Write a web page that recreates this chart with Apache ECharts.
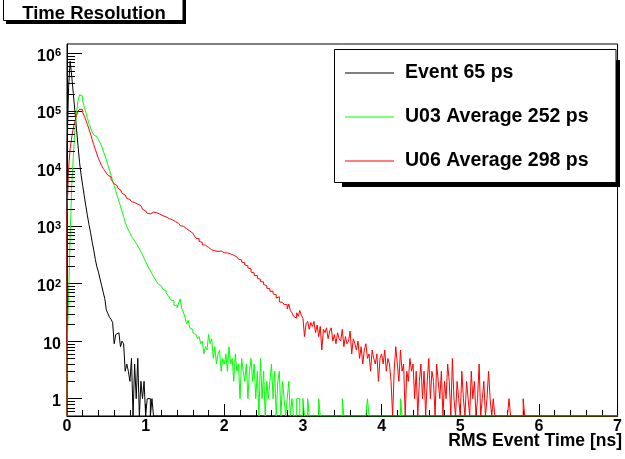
<!DOCTYPE html>
<html><head><meta charset="utf-8">
<script src="https://cdn.jsdelivr.net/npm/echarts@6/dist/echarts.min.js"></script>
<style>html,body{margin:0;padding:0;background:#fff}#c{width:625px;height:459px}</style>
</head><body><div id="c"></div>
<script>
// ---- data ----
const binWidth = 0.02;          // ns per histogram bin
const xMin = 0, xMax = 7;
const yMin = 0.5, yMax = 1.45e6;
const seriesNames = ['Event 65 ps', 'U03 Average 252 ps', 'U06 Average 298 ps'];
const seriesColors = ['#000000', '#00ff00', '#ff0000'];

const eventCounts = [20000,250000,730000,400000,200000,100000,50000,25000,12600,7600,
  5000,3300,2200,1500,1050,760,525,380,263,195,
  158,120,93,71,55,35,30,26,24,21,
  9,13,14,13,8,10,9,3,4,3,
  2,5,0,4,1,5,0,2,1,2,
  0,1,1,0,1];

const u03Counts = [6,60,600,5000,16000,45000,90000,150000,190000,180000,
  148000,117000,93000,74000,60000,50000,43000,38000,35500,34000,
  31500,28000,24500,20500,17000,14000,11500,9300,7600,6200,
  5000,4100,3300,2700,2200,1780,1450,1170,980,850,
  760,660,600,550,500,450,400,355,316,275,
  240,210,186,166,148,132,120,107,98,91,
  85,79,76,69,63,58,52,50,42,42,
  38,46,54,36,32,26,20,23,17,16,
  14,13,14,11,12,9,10,6,8,7,
  13,9,11,5,8,4,6,7,3,5,
  4,6,3,8,4,5,2,6,3,4,
  1,5,3,2,4,1,3,5,2,4,
  1,3,0,5,1,3,0,2,1,2,
  4,1,3,0,2,3,0,2,1,0,
  1,2,0,1,0,0,1,1,0,0,
  1,0,0,1,0,0,0,0,0,0,
  1,0,0,0,0,0,0,0,0,0,
  0,0,0,0,0,1,0,0,0,0,
  0,0,0,0,0,0,0,0,0,0,
  0,1,0,0,0,0,0,0,0,0,
  0,0,0,0,0,0,0,0,0,0,
  0,0,1];

const u06Counts = [1500,10000,22000,35000,50000,66000,83000,98000,107000,105000,
  93000,81000,69000,57500,48000,39000,31600,25700,21400,17800,
  14800,12900,11200,10000,9100,8300,7600,7100,6500,5900,
  5400,5000,4600,4250,4000,3700,3450,3250,3000,2900,
  2750,2650,2550,2500,2400,2350,2250,2100,1950,1820,
  1740,1660,1620,1580,1740,1760,1700,1680,1610,1590,
  1510,1490,1440,1420,1340,1330,1280,1270,1190,1160,
  1110,1080,1010,990,920,900,840,820,770,750,
  700,670,610,600,540,520,470,465,435,425,
  395,385,365,372,355,360,345,368,350,342,
  358,340,352,328,330,310,305,290,285,265,
  258,236,230,210,204,186,180,158,153,137,
  138,123,119,108,107,96,92,83,81,73,
  74,66,64,56,59,48,47,49,43,43,
  36,44,34,31,27,25,31,27,34,28,
  25,12,20,22,16,21,18,22,14,19,
  12,18,7,16,14,17,11,15,17,10,
  13,9,14,11,10,16,8,12,9,10,
  15,6,11,9,7,10,5,8,4,7,
  9,5,6,3,7,5,4,6,2,5,
  6,4,7,3,5,4,2,0,3,8,
  4,2,7,3,4,0,3,2,5,3,
  4,1,3,0,2,4,1,3,0,2,
  5,1,3,2,0,4,2,1,3,0,
  2,1,4,2,0,5,1,0,2,1,
  0,3,1,0,2,1,0,3,1,2,
  0,1,4,0,1,2,0,1,3,1,
  0,1,0,0,0,0,0,0,0,0,
  0,1,0,0,0,0,0,0,0,0,
  1];

const xTickLabels = ['0','1','2','3','4','5','6','7'];
const yMinorTicks = [0.6,0.7,0.8,0.9,
  2,3,4,5,6,7,8,9,
  20,30,40,50,60,70,80,90,
  200,300,400,500,600,700,800,900,
  2000,3000,4000,5000,6000,7000,8000,9000,
  20000,30000,40000,50000,60000,70000,80000,90000,
  200000,300000,400000,500000,600000,700000,800000,900000];

// ---- build ----
const FONT = 'Liberation Sans';
function histPoints(counts) {
  const pts = [[xMin, yMin]];
  counts.forEach((c, i) => pts.push([+(xMin + i * binWidth).toFixed(4), Math.max(c, yMin)]));
  pts.push([+(xMin + counts.length * binWidth).toFixed(4), yMin]);
  pts.push([xMax, yMin]);
  return pts;
}
const allCounts = [eventCounts, u03Counts, u06Counts];

const chart = echarts.init(document.getElementById('c'), null, {renderer: 'canvas', width: 625, height: 459});

const series = allCounts.map((counts, k) => ({
  name: seriesNames[k],
  type: 'line',
  step: 'end',
  data: histPoints(counts),
  showSymbol: false,
  symbol: 'none',
  color: seriesColors[k],
  lineStyle: {color: seriesColors[k], width: 1},
  clip: true,
  animation: false,
  z: 3 + k
}));

series.push({
  type: 'custom',
  silent: true,
  clip: false,
  z: 10,
  data: yMinorTicks.map(v => [xMin, v]),
  renderItem: (params, api) => {
    const p = api.coord([api.value(0), api.value(1)]);
    const y = Math.round(p[1]) + 0.5;
    return {type: 'line', shape: {x1: p[0], y1: y, x2: p[0] + 8, y2: y}, style: {stroke: '#000', lineWidth: 1}};
  }
});

chart.setOption({
  backgroundColor: '#fff',
  animation: false,
  textStyle: {fontFamily: FONT},
  grid: {left: 67, top: 44, width: 553, height: 372, show: true, borderColor: '#000', borderWidth: 1, backgroundColor: 'transparent'},
  xAxis: {
    type: 'value', min: xMin, max: xMax, interval: 1,
    axisLine: {show: true, lineStyle: {color: '#000', width: 1}},
    axisTick: {show: true, inside: true, length: 12, lineStyle: {color: '#000'}},
    minorTick: {show: true, splitNumber: 5, length: 6, lineStyle: {color: '#000'}},
    splitLine: {show: false},
    axisLabel: {color: '#000', fontSize: 16, fontWeight: 'bold', fontFamily: FONT, margin: 3,
      formatter: v => xTickLabels[Math.round(v)] || ''}
  },
  yAxis: {
    type: 'log', logBase: 10, min: yMin, max: yMax,
    axisLine: {show: true, lineStyle: {color: '#000', width: 1}},
    axisTick: {show: true, inside: true, length: 15, lineStyle: {color: '#000'}},
    splitLine: {show: false},
    axisLabel: {
      color: '#000', fontSize: 16, fontWeight: 'bold', fontFamily: FONT, margin: 6,
      padding: [6, 0, 0, 0],
      showMinLabel: false, showMaxLabel: false,
      formatter: v => {
        const l = Math.log10(v), e = Math.round(l);
        if (Math.abs(l - e) > 1e-6) return '';
        if (e === 0) return '1';
        if (e === 1) return '10';
        return '{b|10}{s|' + e + '}';
      },
      rich: {
        b: {fontSize: 16, fontWeight: 'bold', fontFamily: FONT, color: '#000'},
        s: {fontSize: 11, fontWeight: 'bold', fontFamily: FONT, color: '#000', verticalAlign: 'top', padding: [0, 0, 6, 0]}
      }
    }
  },
  legend: {
    orient: 'vertical', left: 345, top: 63, padding: 0, itemWidth: 49, itemHeight: 1, itemGap: 24,
    icon: 'rect', selectedMode: false,
    textStyle: {fontFamily: FONT, fontWeight: 'bold', fontSize: 19.5, lineHeight: 20, color: '#000', padding: [0, 0, 0, 6]},
    data: seriesNames
  },
  graphic: [
    {type: 'rect', shape: {x: 6, y: -4, width: 180, height: 28}, style: {fill: '#000'}, z: 20},
    {type: 'rect', shape: {x: 3.5, y: -6.5, width: 179.5, height: 27}, style: {fill: '#fff', stroke: '#000', lineWidth: 1}, z: 21},
    {type: 'text', x: 94, y: 14, style: {text: 'Time Resolution', fontFamily: FONT, fontWeight: 'bold', fontSize: 18.5, fill: '#000', align: 'center', verticalAlign: 'middle'}, z: 22},
    {type: 'rect', shape: {x: 342, y: 60, width: 278, height: 127}, style: {fill: '#000'}, z: 0},
    {type: 'rect', shape: {x: 334.5, y: 49.5, width: 281.5, height: 133}, style: {fill: '#fff', stroke: '#000', lineWidth: 1}, z: 1},
    {type: 'text', x: 622, y: 441, style: {text: 'RMS Event Time [ns]', fontFamily: FONT, fontWeight: 'bold', fontSize: 17.5, fill: '#000', align: 'right', verticalAlign: 'middle'}, z: 22}
  ],
  series: series
});
</script></body></html>
